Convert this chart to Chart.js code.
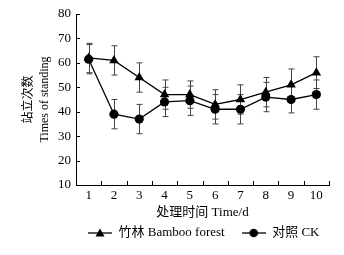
<!DOCTYPE html>
<html><head><meta charset="utf-8">
<script src="https://cdn.jsdelivr.net/npm/chart.js@4/dist/chart.umd.min.js"></script>
<style>html,body{margin:0;padding:0;background:#fff}#c{display:block}</style>
</head><body>
<canvas id="c" width="344" height="255"></canvas>
<script>
const days = ['1','2','3','4','5','6','7','8','9','10'];
const bamboo = [62, 61, 54, 47, 47, 43, 45, 48, 51, 56];
const bambooErr = [6, 6, 6, 6, 5.6, 6, 6, 6, 6.5, 6.5];
const ck = [61.5, 39, 37, 44, 44.5, 41, 41, 46, 45, 47];
const ckErr = [6, 6, 6, 6, 6, 6, 6, 6, 5.5, 6];
const yMin = 10, yMax = 80, yStep = 10;
const seriesNames = ['竹林 Bamboo forest', '对照 CK'];
const xTitle = '处理时间 Time/d';
const yTitle = ['站立次数', 'Times of standing'];

const FONT = '"Liberation Serif","Noto Sans CJK SC",serif';

function legendIcon(style) {
  const c = document.createElement('canvas');
  c.width = 24; c.height = 12;
  const g = c.getContext('2d');
  g.strokeStyle = '#000'; g.lineWidth = 1.3;
  g.beginPath(); g.moveTo(0, 6); g.lineTo(24, 6); g.stroke();
  g.fillStyle = '#000';
  g.beginPath();
  if (style === 'triangle') { g.moveTo(12, 1.5); g.lineTo(16.5, 9.5); g.lineTo(7.5, 9.5); g.closePath(); }
  else { g.arc(12, 6, 4.3, 0, Math.PI * 2); }
  g.fill();
  return c;
}
const icons = [legendIcon('triangle'), legendIcon('circle')];

const errData = [bambooErr, ckErr];

const errorBars = {
  id: 'errorBars',
  afterLayout(chart) {
    const lg = chart.legend;
    if (!lg || !lg.lineWidths) return;
    const pad = lg.options.labels.padding;
    const start = (lg.left + pad + lg.right - lg.lineWidths[0]) / 2;
    const dx = 88 - start;
    lg.left += dx; lg.right += dx;
    lg.top -= 10.5; lg.bottom -= 10.5;
  },
  beforeDatasetsDraw(chart) {
    const {ctx, scales: {x, y}} = chart;
    ctx.save();
    ctx.strokeStyle = '#444'; ctx.lineWidth = 1;
    chart.data.datasets.forEach((ds, di) => {
      ds.data.forEach((v, i) => {
        const e = errData[di][i];
        const px = Math.round(x.getPixelForValue(i)) + 0.5;
        const t = y.getPixelForValue(v + e), b = y.getPixelForValue(v - e);
        ctx.beginPath();
        ctx.moveTo(px, t); ctx.lineTo(px, b);
        ctx.moveTo(px - 3, t); ctx.lineTo(px + 3, t);
        ctx.moveTo(px - 3, b); ctx.lineTo(px + 3, b);
        ctx.stroke();
      });
    });
    ctx.restore();
  },
  afterDraw(chart) {
    const {ctx, scales: {x, y}, chartArea: ca} = chart;
    ctx.save();
    ctx.strokeStyle = '#000'; ctx.lineWidth = 1;
    ctx.beginPath();
    for (let v = yMin; v <= yMax; v += yStep) {
      const py = Math.round(y.getPixelForValue(v)) + 0.5;
      ctx.moveTo(ca.left, py); ctx.lineTo(ca.left + 4, py);
    }
    for (let i = 0; i <= days.length; i++) {
      const px = Math.round(x.getPixelForValue(i - 0.5)) + 0.5;
      ctx.moveTo(px, ca.bottom); ctx.lineTo(px, ca.bottom - 4);
    }
    ctx.stroke();
    ctx.restore();
  }
};

new Chart(document.getElementById('c'), {
  type: 'line',
  data: {
    labels: days,
    datasets: [
      { label: seriesNames[0], data: bamboo, borderColor: '#000', backgroundColor: '#000', borderWidth: 1.3,
        pointStyle: 'triangle', pointRadius: 5.5, pointBorderWidth: 0, tension: 0 },
      { label: seriesNames[1], data: ck, borderColor: '#000', backgroundColor: '#000', borderWidth: 1.3,
        pointStyle: 'circle', pointRadius: 4.6, pointBorderWidth: 0, tension: 0 }
    ]
  },
  options: {
    responsive: false,
    animation: false,
    devicePixelRatio: 1,
    layout: { padding: { left: 0, right: 15, top: 14, bottom: 0 } },
    scales: {
      x: {
        type: 'category', offset: true,
        grid: { display: false, drawTicks: false },
        border: { display: true, color: '#000', width: 1 },
        ticks: { color: '#000', padding: 3, font: { family: FONT, size: 13 }, maxRotation: 0 },
        title: { display: true, text: xTitle, color: '#000', font: { family: FONT, size: 13 }, padding: { top: 0, bottom: 0 } },
        afterFit(s) { s.height = 35; }
      },
      y: {
        min: yMin, max: yMax,
        grid: { display: false, drawTicks: false },
        border: { display: true, color: '#000', width: 1 },
        ticks: { stepSize: yStep, color: '#000', padding: 5, font: { family: FONT, size: 13 } },
        title: { display: true, text: yTitle, color: '#000', font: { family: FONT, size: 12, lineHeight: 1.4 }, padding: { top: 20, bottom: 0 } },
        afterFit(s) { s.width = 76; }
      }
    },
    plugins: {
      legend: {
        position: 'bottom',
        maxHeight: 35,
        labels: {
          usePointStyle: true, pointStyleWidth: 24, padding: 17,
          color: '#000', font: { family: FONT, size: 13 },
          generateLabels(chart) {
            return chart.data.datasets.map((ds, i) => ({
              text: ds.label, pointStyle: icons[i], fillStyle: '#000', strokeStyle: '#000',
              lineWidth: 0, hidden: false, datasetIndex: i, fontColor: '#000'
            }));
          }
        }
      },
      tooltip: { enabled: false }
    }
  },
  plugins: [errorBars]
});
</script>
</body></html>
